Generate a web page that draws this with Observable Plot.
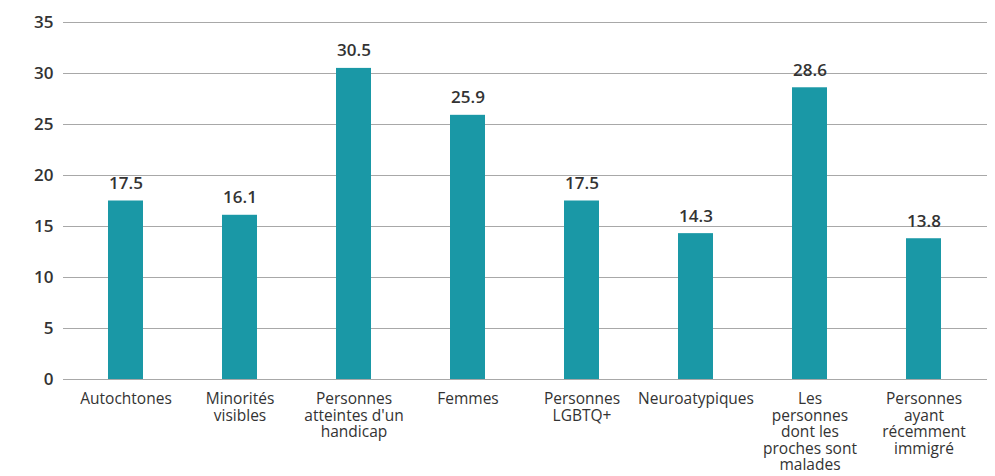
<!DOCTYPE html>
<html>
<head>
<meta charset="utf-8">
<script src="https://cdn.jsdelivr.net/npm/d3@7"></script>
<script src="https://cdn.jsdelivr.net/npm/@observablehq/plot@0.6"></script>
<style>
  html, body { margin: 0; padding: 0; background: #fff; }
  #chart { width: 995px; height: 476px; }
</style>
</head>
<body>
<div id="chart"></div>
<script>
const categories = [
  "Autochtones",
  "Minorités\nvisibles",
  "Personnes\natteintes d'un\nhandicap",
  "Femmes",
  "Personnes\nLGBTQ+",
  "Neuroatypiques",
  "Les\npersonnes\ndont les\nproches sont\nmalades",
  "Personnes\nayant\nrécemment\nimmigré"
];
const values = [17.5, 16.1, 30.5, 25.9, 17.5, 14.3, 28.6, 13.8];
const yTicks = [0, 5, 10, 15, 20, 25, 30, 35];

const data = categories.map((c, i) => ({category: c, value: values[i]}));

const chart = Plot.plot({
  width: 995,
  height: 476,
  marginLeft: 63,
  marginRight: 8,
  marginTop: 22,
  marginBottom: 97,
  style: {fontFamily: "'Open Sans', Lato, sans-serif", color: "#333", background: "#fff"},
  x: {domain: categories, range: [67, 982], paddingInner: 0.69, paddingOuter: 0.345, label: null},
  y: {domain: [0, 35], ticks: yTicks, label: null},
  marks: [
    Plot.ruleY(yTicks, {stroke: "#a8a8a8", strokeWidth: 1.2}),
    Plot.barY(data, {x: "category", y: "value", fill: "#1a98a6"}),
    Plot.text(data, {x: "category", y: "value", text: d => d.value.toFixed(1), dy: -12, lineAnchor: "bottom", fontSize: 17, fontWeight: 600, fill: "#333"}),
    Plot.axisY({ticks: yTicks, tickSize: 0, tickPadding: 10, fontSize: 17, fontWeight: 600, label: null, fill: "#333"}),
    Plot.axisX({tickSize: 0, tickPadding: 13, fontSize: 15.5, lineHeight: 1.065, label: null, fill: "#333"})
  ]
});
document.getElementById("chart").appendChild(chart);
</script>
</body>
</html>
